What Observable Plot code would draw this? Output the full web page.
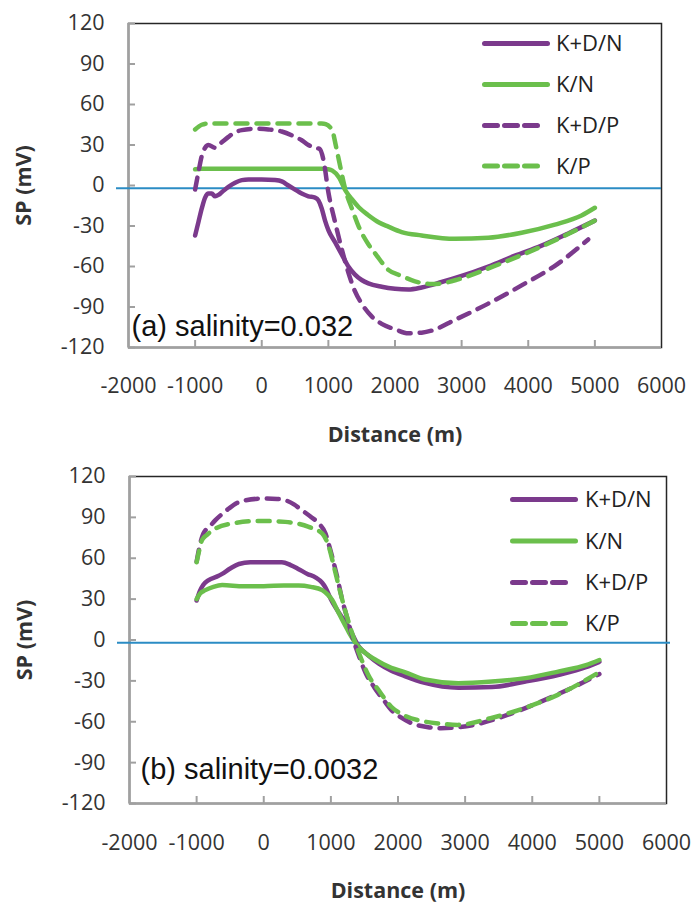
<!DOCTYPE html>
<html><head><meta charset="utf-8">
<script src="https://cdn.jsdelivr.net/npm/d3@7"></script>
<script src="https://cdn.jsdelivr.net/npm/@observablehq/plot@0.6"></script>
<style>
body{margin:0;background:#fff;}
.panel{position:relative;width:695px;}
.panel svg [aria-label="x-axis label"], .panel svg [aria-label="y-axis label"]{font-weight:bold;}
.legend{position:absolute;left:0;top:0;pointer-events:none;}
</style></head><body><div id="chart"></div>
<script>
// ---------- data ----------
const seriesNames = ["K+D/N", "K/N", "K+D/P", "K/P"];
const panelLabels = ["(a) salinity=0.032", "(b) salinity=0.0032"];
const xTicks = [-2000, -1000, 0, 1000, 2000, 3000, 4000, 5000, 6000];
const xInnerTicks = [-1000, 0, 1000, 2000, 3000, 4000, 5000];
const yTicks = [-120, -90, -60, -30, 0, 30, 60, 90, 120];
const refLineY = -2;

// panel (a) salinity = 0.032
const a_KDN = [[-1000,-37],[-950,-27],[-900,-17],[-850,-9],[-800,-6],[-750,-6],[-700,-8],[-650,-7],[-600,-5],[-500,-1],[-400,2],[-300,4],[-200,4.5],[0,4.5],[200,4],[300,3],[400,0],[500,-3],[600,-6],[700,-8],[800,-9],[850,-11],[900,-17],[950,-26],[1000,-33],[1100,-42],[1200,-51],[1300,-60],[1400,-66],[1500,-70],[1600,-72.5],[1800,-75],[2000,-76.5],[2200,-77],[2400,-75.5],[2700,-71.5],[3000,-67],[3400,-60],[3800,-52],[4200,-44.5],[4600,-35.5],[5000,-26]];
const a_KN = [[-1000,12],[-900,12.5],[900,12.5],[1000,12],[1060,11],[1160,6],[1260,-4],[1350,-10],[1460,-16.3],[1600,-22],[1760,-27.4],[1900,-30.5],[2100,-34.5],[2400,-37],[2900,-39.5],[3400,-38.7],[3900,-35],[4400,-29],[4800,-22.2],[5000,-16.5]];
const a_KDP = [[-1000,-3],[-950,10],[-900,22],[-850,28],[-800,30],[-700,28],[-600,32],[-500,36],[-400,39.5],[-300,41],[-100,42],[100,41.5],[300,40],[500,36],[600,33.5],[700,30],[800,28],[870,27],[930,18],[1000,-5],[1100,-27],[1200,-47],[1300,-64.5],[1400,-78.5],[1500,-87.5],[1650,-97],[1800,-102.5],[2000,-106.5],[2200,-109.5],[2400,-109],[2550,-107.5],[2900,-99.5],[3400,-87.5],[3900,-74],[4400,-59.5],[4900,-40]];
const a_KP = [[-1000,41.5],[-900,45],[-800,46],[900,46],[960,45.5],[1060,40.5],[1110,30],[1160,18.3],[1260,-4],[1360,-18],[1460,-31],[1600,-43.5],[1710,-50.8],[1900,-62.5],[2100,-67],[2300,-71],[2550,-73],[2700,-72.5],[2950,-69.5],[3450,-60.5],[3950,-50.5],[4450,-39.5],[5000,-26]];

// panel (b) salinity = 0.0032
const b_KDN = [[-1000,29],[-950,36],[-900,40.5],[-820,44],[-700,46.5],[-620,48.5],[-500,52.5],[-370,55.8],[-200,57],[0,57],[270,57],[400,55],[520,52],[650,48.5],[770,46],[870,42],[920,38.5],[1000,30],[1120,20],[1270,9],[1420,-5],[1550,-11],[1720,-17.5],[1900,-22.5],[2100,-26.5],[2400,-31.5],[2900,-35],[3400,-34.5],[3900,-30.5],[4400,-25.5],[4800,-20],[5000,-16]];
const b_KN = [[-1000,30],[-950,34],[-870,36.6],[-750,39],[-620,40.3],[-300,39.5],[0,39.5],[300,40],[520,40],[700,39],[870,36.6],[950,33.5],[1020,29.3],[1100,21.5],[1170,14.7],[1270,5.5],[1370,-2.4],[1500,-9],[1670,-14.7],[1900,-20.5],[2100,-23.5],[2400,-29],[2900,-31.7],[3400,-30.5],[3900,-28],[4400,-23],[4800,-18.5],[5000,-14.7]];
const b_KDP = [[-1000,57.5],[-950,70],[-900,78],[-800,83.5],[-720,88],[-620,92.5],[-520,96.5],[-400,100.5],[-270,102.6],[0,103.8],[200,103.5],[320,102.6],[450,99.5],[570,95.2],[700,90.5],[820,85.5],[920,78.2],[970,70],[1020,61],[1100,45],[1170,29.3],[1250,15],[1320,2.4],[1420,-12],[1520,-24.4],[1650,-35],[1800,-45],[1900,-51.3],[2050,-57],[2200,-61],[2450,-64],[2640,-64.7],[2900,-64],[3130,-62.3],[3630,-55],[4130,-45.2],[4630,-34.2],[5000,-25]];
const b_KP = [[-1000,57],[-960,66],[-920,73.3],[-850,77],[-720,81.8],[-470,85.5],[-75,87.4],[320,86.7],[670,83],[870,78.2],[970,68.4],[1050,53],[1120,39],[1200,24],[1270,12.2],[1420,-9.7],[1570,-26.9],[1700,-36],[1900,-49],[2100,-55.5],[2390,-59.8],[2650,-61.5],[2890,-62.3],[3380,-57.4],[3880,-50],[4380,-40.3],[5000,-23.5]];

// ---------- styles ----------
const colors = {"K+D/N": "#7b3a8c", "K/N": "#6bbf4c", "K+D/P": "#7b3a8c", "K/P": "#6bbf4c"};
const isDashed = {"K+D/N": false, "K/N": false, "K+D/P": true, "K/P": true};
const DASH = "12,9";
const tickFont = "'Open Sans', 'Noto Sans', sans-serif";

const panels = [
  {label: panelLabels[0], series: [a_KDN, a_KN, a_KDP, a_KP], height: 450,
   margins: {top: 23, left: 128, right: 34, bottom: 103}, ruleInsetRight: 0,
   textDx: 3, textDy: -11.5, tickPad: 30,
   legend: {x1: 482, x2: 550, x2d: 542, tx: 556, ys: [43.5, 84.5, 125.5, 166]}},
  {label: panelLabels[1], series: [b_KDN, b_KN, b_KDP, b_KP], height: 458,
   margins: {top: 26, left: 129, right: 29, bottom: 105}, ruleInsetRight: -4,
   textDx: 11, textDy: -25, tickPad: 31,
   legend: {x1: 510, x2: 578, x2d: 570, tx: 585, ys: [49.5, 91, 132.5, 173.5]}}
];

const root = document.getElementById("chart");

panels.forEach(p => {
  const lineMarks = seriesNames.map((name, i) =>
    Plot.line(p.series[i], {
      x: d => d[0], y: d => d[1], curve: "monotone-x",
      stroke: colors[name], strokeWidth: 4.5,
      strokeDasharray: isDashed[name] ? DASH : null,
      strokeLinecap: "round", strokeLinejoin: "round"
    })
  );
  const chart = Plot.plot({
    width: 695, height: p.height,
    marginTop: p.margins.top, marginLeft: p.margins.left,
    marginRight: p.margins.right, marginBottom: p.margins.bottom,
    style: {fontFamily: tickFont, fontSize: "21px", color: "#333", background: "#fff", overflow: "visible"},
    x: {domain: [-2000, 6000]},
    y: {domain: [-120, 120]},
    marks: [
      Plot.frame({stroke: "#262626", strokeWidth: 1.5}),
      Plot.ruleX([-2000], {stroke: "#a0a0a0", strokeWidth: 2.5}),
      Plot.ruleY([-120], {stroke: "#a0a0a0", strokeWidth: 2.5}),
      Plot.axisX({ticks: xInnerTicks, tickSize: 7, dy: -7, tickFormat: () => "", label: null, stroke: "#a0a0a0", strokeWidth: 2}),
      Plot.axisY({ticks: yTicks, tickSize: 7, dx: 7, tickFormat: () => "", label: null, stroke: "#a0a0a0", strokeWidth: 2}),
      Plot.axisX({ticks: xTicks, tickSize: 0, tickPadding: p.tickPad, tickFormat: d => String(d), fontSize: 21.5, fill: "#333",
        label: "Distance (m)", labelAnchor: "center", labelOffset: 94, labelArrow: "none"}),
      Plot.axisY({ticks: yTicks, tickSize: 0, tickPadding: 24, tickFormat: d => String(d), fontSize: 21.5, fill: "#333",
        label: "SP (mV)", labelAnchor: "center", labelOffset: 113, labelArrow: "none"}),
      Plot.ruleY([refLineY], {stroke: "#2b8cc4", strokeWidth: 2, insetLeft: -12, insetRight: p.ruleInsetRight, clip: false}),
      ...lineMarks,
      Plot.text([p.label], {frameAnchor: "bottom-left", textAnchor: "start", lineAnchor: "bottom",
        dx: p.textDx, dy: p.textDy, fontSize: 29, fontFamily: "'Liberation Sans', Arial, sans-serif", fill: "#111"})
    ]
  });
  const div = document.createElement("div");
  div.className = "panel";
  div.style.height = p.height + "px";
  div.appendChild(chart);
  // legend overlay
  const lg = d3.select(div).append("svg").attr("class", "legend")
    .attr("width", 695).attr("height", p.height);
  seriesNames.forEach((name, i) => {
    const y = p.legend.ys[i];
    lg.append("line")
      .attr("x1", p.legend.x1 + 2.5).attr("x2", (isDashed[name] ? p.legend.x2d : p.legend.x2) - 2.5)
      .attr("y1", y).attr("y2", y)
      .attr("stroke", colors[name]).attr("stroke-width", 5)
      .attr("stroke-linecap", "round")
      .attr("stroke-dasharray", isDashed[name] ? "13,7" : null);
    lg.append("text").attr("x", p.legend.tx).attr("y", y).attr("dy", "0.35em")
      .attr("font-family", tickFont).attr("font-size", 22).attr("fill", "#222")
      .text(name);
  });
  root.appendChild(div);
});
</script></body></html>
